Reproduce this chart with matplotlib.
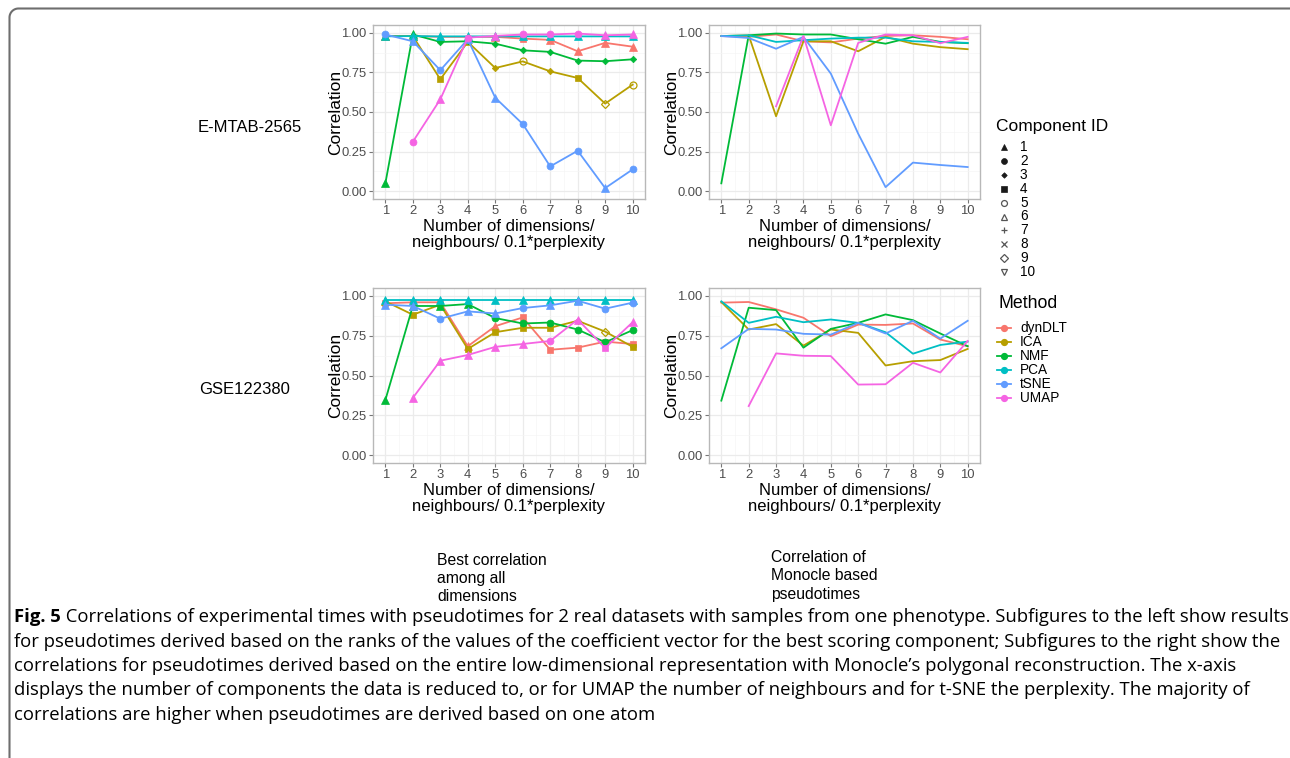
import matplotlib
matplotlib.use("Agg")
import matplotlib.pyplot as plt
import numpy as np

plt.rcParams['font.family'] = ['Liberation Sans', 'DejaVu Sans']

nan = np.nan
x = [1, 2, 3, 4, 5, 6, 7, 8, 9, 10]
methods = ['dynDLT', 'ICA', 'NMF', 'PCA', 'tSNE', 'UMAP']
colours = ['#F8766D', '#B79F00', '#00BA38', '#00BFC4', '#619CFF', '#F564E3']
comp_ids = [1, 2, 3, 4, 5, 6, 7, 8, 9, 10]

# E-MTAB-2565, best correlation among all dimensions (value, component id)
em_best_dyndlt = [0.98, 0.98, 0.975, 0.975, 0.975, 0.964, 0.956, 0.884, 0.937, 0.913]
em_best_ica = [0.98, 0.98, 0.707, 0.943, 0.778, 0.82, 0.757, 0.715, 0.553, 0.673]
em_best_nmf = [0.049, 0.99, 0.943, 0.947, 0.932, 0.89, 0.88, 0.825, 0.821, 0.833]
em_best_pca = [0.978, 0.98, 0.978, 0.978, 0.978, 0.978, 0.978, 0.978, 0.978, 0.978]
em_best_tsne = [0.99, 0.947, 0.764, 0.96, 0.59, 0.424, 0.156, 0.255, 0.019, 0.137]
em_best_umap = [nan, 0.312, 0.58, 0.97, 0.981, 0.99, 0.99, 0.996, 0.985, 0.99]
em_comp_dyndlt = [1, 1, 1, 1, 1, 4, 1, 1, 1, 1]
em_comp_ica = [1, 1, 4, 4, 3, 5, 3, 4, 9, 5]
em_comp_nmf = [1, 1, 3, 3, 3, 3, 3, 3, 3, 3]
em_comp_pca = [1, 1, 1, 1, 1, 1, 1, 1, 1, 1]
em_comp_tsne = [2, 1, 2, 1, 1, 2, 2, 2, 1, 2]
em_comp_umap = [0, 2, 1, 2, 1, 2, 2, 2, 1, 1]

# E-MTAB-2565, Monocle pseudotimes
em_mono_dyndlt = [0.98, 0.975, 0.99, 0.947, 0.94, 0.964, 0.981, 0.985, 0.975, 0.96]
em_mono_ica = [0.98, 0.985, 0.473, 0.947, 0.947, 0.884, 0.975, 0.932, 0.91, 0.897]
em_mono_nmf = [0.049, 0.985, 0.996, 0.99, 0.99, 0.96, 0.932, 0.975, 0.943, 0.935]
em_mono_pca = [0.98, 0.985, 0.943, 0.954, 0.964, 0.97, 0.97, 0.947, 0.943, 0.937]
em_mono_tsne = [0.98, 0.968, 0.90, 0.975, 0.743, 0.363, 0.025, 0.18, 0.165, 0.152]
em_mono_umap = [nan, nan, 0.536, 0.981, 0.416, 0.937, 0.99, 0.985, 0.935, 0.975]

# GSE122380, best correlation among all dimensions
gse_best_dyndlt = [0.954, 0.96, 0.96, 0.684, 0.81, 0.865, 0.662, 0.675, 0.713, 0.698]
gse_best_ica = [0.966, 0.882, 0.945, 0.667, 0.772, 0.80, 0.80, 0.844, 0.776, 0.68]
gse_best_nmf = [0.346, 0.937, 0.937, 0.949, 0.861, 0.827, 0.833, 0.789, 0.709, 0.785]
gse_best_pca = [0.975, 0.975, 0.975, 0.975, 0.975, 0.975, 0.975, 0.975, 0.975, 0.975]
gse_best_tsne = [0.945, 0.937, 0.857, 0.903, 0.89, 0.924, 0.941, 0.97, 0.92, 0.958]
gse_best_umap = [nan, 0.359, 0.593, 0.629, 0.68, 0.698, 0.717, 0.852, 0.673, 0.835]
gse_comp_dyndlt = [4, 4, 4, 1, 1, 4, 4, 4, 4, 4]
gse_comp_ica = [1, 4, 4, 4, 4, 4, 4, 3, 9, 4]
gse_comp_nmf = [1, 1, 1, 1, 2, 2, 2, 2, 2, 2]
gse_comp_pca = [1, 1, 1, 1, 1, 1, 1, 1, 1, 1]
gse_comp_tsne = [1, 1, 2, 1, 1, 2, 1, 1, 2, 2]
gse_comp_umap = [0, 1, 1, 1, 1, 1, 2, 1, 4, 1]

# GSE122380, Monocle pseudotimes
gse_mono_dyndlt = [0.958, 0.962, 0.916, 0.863, 0.747, 0.82, 0.818, 0.827, 0.726, 0.684]
gse_mono_ica = [0.962, 0.789, 0.823, 0.688, 0.789, 0.768, 0.563, 0.59, 0.597, 0.667]
gse_mono_nmf = [0.342, 0.926, 0.911, 0.675, 0.793, 0.831, 0.884, 0.848, 0.764, 0.684]
gse_mono_pca = [0.966, 0.831, 0.869, 0.835, 0.852, 0.831, 0.772, 0.637, 0.692, 0.713]
gse_mono_tsne = [0.671, 0.793, 0.789, 0.762, 0.757, 0.831, 0.764, 0.844, 0.732, 0.844]
gse_mono_umap = [nan, 0.308, 0.639, 0.624, 0.622, 0.443, 0.445, 0.58, 0.519, 0.717]

# ggplot shapes 17,16,18,15,1,2,3,4,5,6 -> marker, filled, size
shapes = {1: ('^', True, 5.2), 2: ('o', True, 5.0), 3: ('D', True, 3.3),
          4: ('s', True, 4.6), 5: ('o', False, 5.0), 6: ('^', False, 5.2),
          7: ('+', False, 5.5), 8: ('x', False, 4.5), 9: ('D', False, 4.5),
          10: ('v', False, 5.2)}


def draw_marker(ax, xi, yi, cid, col, scale=1.0, **kw):
    m, filled, s = shapes[cid]
    if filled:
        ax.plot(xi, yi, marker=m, ms=s * scale, color=col, mec=col, mew=0.5, ls='none', **kw)
    else:
        ax.plot(xi, yi, marker=m, ms=s * scale, mfc='none', mec=col, mew=0.9, ls='none', **kw)


def style(ax):
    ax.set_xlim(0.55, 10.45)
    ax.set_ylim(-0.05, 1.05)
    ax.set_xticks(x)
    ax.set_xticks(np.arange(1.5, 10, 1), minor=True)
    ax.set_yticks([0, 0.25, 0.5, 0.75, 1.0])
    ax.set_yticklabels(['0.00', '0.25', '0.50', '0.75', '1.00'])
    ax.set_yticks([0.125, 0.375, 0.625, 0.875], minor=True)
    ax.grid(which='major', color='#ebebeb', lw=0.9)
    ax.grid(which='minor', color='#f5f5f5', lw=0.5)
    ax.set_axisbelow(True)
    for sp in ax.spines.values():
        sp.set_color('#b8b8b8')
        sp.set_linewidth(1.0)
    ax.tick_params(which='major', length=3, width=0.8, color='#777777',
                   labelsize=9.4, labelcolor='#4d4d4d', pad=1.5)
    ax.tick_params(which='minor', length=0)
    ax.set_ylabel('Correlation', fontsize=12.5, labelpad=-1.5)
    ax.set_xlabel('Number of dimensions/\nneighbours/ 0.1*perplexity',
                  fontsize=12, labelpad=1, linespacing=1.1)


fig = plt.figure(figsize=(12.9, 7.58), dpi=100)

ov = fig.add_axes([0, 0, 1, 1])
ov.set_xlim(0, 1290)
ov.set_ylim(758, 0)
ov.set_autoscale_on(False)
ov.axis('off')

positions = {
    'tl': [373 / 1290, 1 - 199 / 758, 272 / 1290, 174 / 758],
    'tr': [709 / 1290, 1 - 199 / 758, 271 / 1290, 174 / 758],
    'bl': [373 / 1290, 1 - 463 / 758, 272 / 1290, 175 / 758],
    'br': [709 / 1290, 1 - 463 / 758, 271 / 1290, 175 / 758],
}

best_panels = {
    'tl': ([em_best_dyndlt, em_best_ica, em_best_nmf, em_best_pca, em_best_tsne, em_best_umap],
           [em_comp_dyndlt, em_comp_ica, em_comp_nmf, em_comp_pca, em_comp_tsne, em_comp_umap]),
    'bl': ([gse_best_dyndlt, gse_best_ica, gse_best_nmf, gse_best_pca, gse_best_tsne, gse_best_umap],
           [gse_comp_dyndlt, gse_comp_ica, gse_comp_nmf, gse_comp_pca, gse_comp_tsne, gse_comp_umap]),
}
mono_panels = {
    'tr': [em_mono_dyndlt, em_mono_ica, em_mono_nmf, em_mono_pca, em_mono_tsne, em_mono_umap],
    'br': [gse_mono_dyndlt, gse_mono_ica, gse_mono_nmf, gse_mono_pca, gse_mono_tsne, gse_mono_umap],
}

for key, (series, comps) in best_panels.items():
    ax = fig.add_axes(positions[key])
    style(ax)
    for vals, cids, col in zip(series, comps, colours):
        ax.plot(x, vals, color=col, lw=1.3)
        for xi, yi, cid in zip(x, vals, cids):
            if cid:
                draw_marker(ax, xi, yi, cid, col)

for key, series in mono_panels.items():
    ax = fig.add_axes(positions[key])
    style(ax)
    for vals, col in zip(series, colours):
        ax.plot(x, vals, color=col, lw=1.3)

# figure frame: top and left edge with a rounded corner
ang = np.linspace(np.pi, 1.5 * np.pi, 20)
rad = 9
fx = np.concatenate([[9.5], 9.5 + rad + rad * np.cos(ang), [1300]])
fy = np.concatenate([[800], 8.5 + rad + rad * np.sin(ang), [8.5]])
ov.plot(fx, fy, color='#6e6e6e', lw=1.5, solid_capstyle='butt')

# row labels
ov.text(250, 128, 'E-MTAB-2565', fontsize=12, ha='center', va='center')
ov.text(245, 389, 'GSE122380', fontsize=12, ha='center', va='center')

# legends
row_h = 13.9
ov.text(996, 127, 'Component ID', fontsize=12.5, ha='left', va='center')
for i, cid in enumerate(comp_ids):
    yy = 147 + i * row_h
    m, filled, s = shapes[cid]
    col = '#1a1a1a' if filled else '#555555'
    draw_marker(ov, 1004, yy, cid, col, scale=0.85)
    ov.text(1020, yy, str(cid), fontsize=9.8, ha='left', va='center')

ov.text(998, 304, 'Method', fontsize=12.8, ha='left', va='center')
for i, (name, col) in enumerate(zip(methods, colours)):
    yy = 328 + i * row_h
    ov.plot([997, 1011], [yy, yy], color=col, lw=1.3)
    ov.plot(1004, yy, marker='o', ms=4.2, color=col, ls='none')
    ov.text(1020, yy, name, fontsize=9.8, ha='left', va='center')

# sub captions
ov.text(437, 578.5, 'Best correlation\namong all\ndimensions', fontsize=11.3,
        ha='left', va='center', linespacing=1.26)
ov.text(771, 576, 'Correlation of\nMonocle based\npseudotimes', fontsize=11.3,
        ha='left', va='center', linespacing=1.26)

# figure caption
cap_lines = [
    ' Correlations of experimental times with pseudotimes for 2 real datasets with samples from one phenotype. Subfigures to the left show results',
    'for pseudotimes derived based on the ranks of the values of the coefficient vector for the best scoring component; Subfigures to the right show the',
    'correlations for pseudotimes derived based on the entire low-dimensional representation with Monocle\u2019s polygonal reconstruction. The x-axis',
    'displays the number of components the data is reduced to, or for UMAP the number of neighbours and for t-SNE the perplexity. The majority of',
    'correlations are higher when pseudotimes are derived based on one atom',
]
cap_font = ['Open Sans', 'DejaVu Sans']
cap_fs = 12
fig.canvas.draw()
r = fig.canvas.get_renderer()
t0 = ov.text(14, 617, 'Fig. 5', fontsize=cap_fs, fontweight='bold', family=cap_font,
             ha='left', va='center')
w0 = t0.get_window_extent(r).width
t1 = ov.text(14 + w0, 617, cap_lines[0], fontsize=cap_fs, family=cap_font,
             ha='left', va='center')
w1 = t1.get_window_extent(r).width
cap_fs = cap_fs * 1269 / (w0 + w1)
t0.set_fontsize(cap_fs)
t1.set_fontsize(cap_fs)
w0 = t0.get_window_extent(r).width
t1.set_x(14 + w0)
for i, line in enumerate(cap_lines[1:]):
    ov.text(14, 642 + i * 24.2, line, fontsize=cap_fs, family=cap_font,
            ha='left', va='center')

fig.savefig('out.png', dpi=100)
